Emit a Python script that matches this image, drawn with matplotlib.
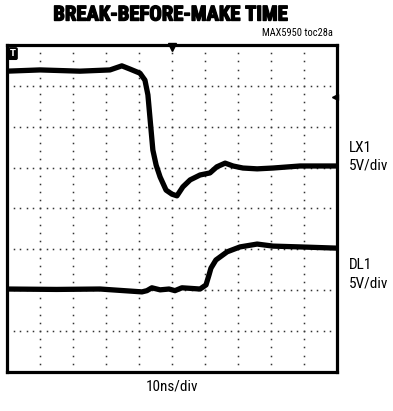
"""
Scope capture: break-before-make timing of LX1 and DL1.
"""
import numpy as np
import matplotlib
matplotlib.use("Agg")
import matplotlib.pyplot as plt
import matplotlib.patheffects as pe
from matplotlib import font_manager

W, H = 393, 411

# LX1 trace: time (ns) and screen position (divisions from bottom)
lx1_t = [0, 10, 22.1, 31.2, 34.8, 37.3, 40.3, 41.8, 42.7, 43.3, 44.2, 45.2,
         46.4, 48.2, 50.0, 51.5, 53.3, 55.5, 58.5, 61.5, 63.6, 66.1, 68.5,
         71.5, 75.8, 80.6, 88.8, 100]
lx1_v = [7.36, 7.39, 7.36, 7.39, 7.49, 7.41, 7.31, 7.14, 6.78, 6.24, 5.43,
         5.06, 4.77, 4.45, 4.35, 4.31, 4.53, 4.70, 4.82, 4.87, 5.02, 5.11,
         5.04, 4.99, 4.97, 4.99, 5.04, 5.04]

# DL1 trace
dl1_t = [0, 15, 28.2, 40.9, 42.4, 43.9, 46.4, 49.1, 50.9, 53.0, 58.5, 60.3,
         61.2, 61.8, 63.3, 66.7, 70.6, 75.8, 80.6, 88.8, 100]
dl1_v = [2.03, 2.02, 2.03, 1.96, 1.99, 2.06, 2.01, 2.03, 1.99, 2.06, 2.03,
         2.13, 2.37, 2.54, 2.74, 2.94, 3.06, 3.13, 3.08, 3.06, 3.03]

N_XDIV, N_YDIV = 10, 8
NS_PER_DIV = 10

installed = {f.name for f in font_manager.fontManager.ttflist}
FAMILY = [f for f in ["Liberation Sans Narrow", "Roboto Condensed",
                      "Liberation Sans", "DejaVu Sans"] if f in installed]

fig = plt.figure(figsize=(W / 100, H / 100), dpi=100)
fig.patch.set_facecolor("white")
renderer = fig.canvas.get_renderer()


def put_text(px, py, s, **kw):
    return fig.text(px / W, 1 - py / H, s, family=FAMILY,
                    fontstretch="condensed", **kw)


def fit_text(px, py, s, width_px, **kw):
    """Place text at pixel position and scale its size to a given width."""
    t = put_text(px, py, s, **kw)
    w = t.get_window_extent(renderer).width
    t.set_fontsize(t.get_fontsize() * width_px / w)
    return t


# screen area in pixels
x0, x1, y0, y1 = 7, 337, 45, 372
ax = fig.add_axes([x0 / W, 1 - y1 / H, (x1 - x0) / W, (y1 - y0) / H])
ax.set_xlim(0, N_XDIV * NS_PER_DIV)
ax.set_ylim(0, N_YDIV)
ax.set_xticks([])
ax.set_yticks([])
for s in ax.spines.values():
    s.set_linewidth(2.3)
    s.set_color("black")

# dotted graticule
minor_x = np.arange(0, N_XDIV + 0.01, 0.2) * NS_PER_DIV
minor_y = np.arange(0, N_YDIV + 0.01, 0.2)
for j in range(0, N_YDIV + 1):
    ax.plot(minor_x, np.full_like(minor_x, j), ls="none", marker="s",
            ms=1.1, mew=0, color="#333333", zorder=1)
for i in range(0, N_XDIV + 1):
    ax.plot(np.full_like(minor_y, i * NS_PER_DIV), minor_y, ls="none",
            marker="s", ms=1.1, mew=0, color="#333333", zorder=1)

# traces
for t, v in [(lx1_t, lx1_v), (dl1_t, dl1_v)]:
    ax.plot(t, v, color="black", lw=3.8, solid_joinstyle="round",
            solid_capstyle="butt", zorder=3)

# trigger and level markers
ax.plot([50], [N_YDIV - 0.05], marker="v", ms=6, color="black",
        clip_on=False, zorder=4)
ax.plot([99.3], [6.73], marker="<", ms=5, color="black",
        clip_on=False, zorder=4)
ax.text(1.8, 7.79, "T", fontsize=6, fontweight="bold", color="white",
        ha="center", va="center", zorder=4,
        bbox=dict(boxstyle="round,pad=0.15", fc="black", ec="black"))

# labels
title = fit_text(170, 15, "BREAK-BEFORE-MAKE TIME", 235, fontsize=14,
                 fontweight="bold", ha="center", va="center")
title.set_path_effects([pe.withStroke(linewidth=1.0, foreground="black")])
fit_text(333, 33, "MAX5950 toc28a", 71, fontsize=7, ha="right", va="center")

for py, s in [(148, "LX1"), (166, "5V/div"), (265, "DL1"), (283, "5V/div")]:
    put_text(349, py, s, fontsize=11, ha="left", va="center")
put_text(172, 386, "10ns/div", fontsize=11, ha="center", va="center")

fig.savefig("out.png", dpi=100, facecolor="white")
